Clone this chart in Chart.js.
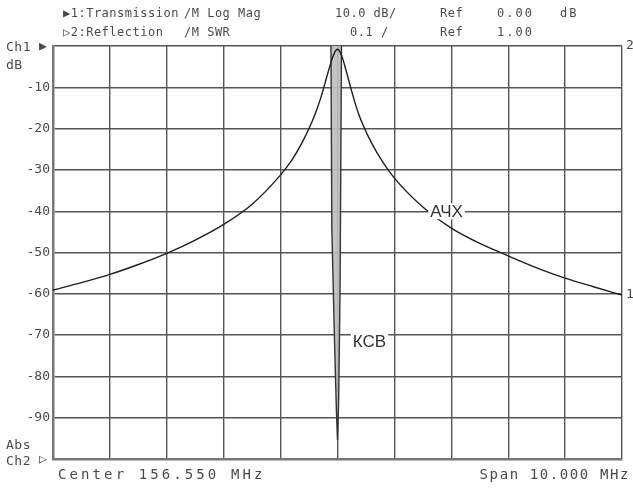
<!DOCTYPE html>
<html>
<head>
<meta charset="utf-8">
<script src="https://cdn.jsdelivr.net/npm/chart.js@4/dist/chart.umd.min.js"></script>
<style>
  body { margin: 0; background: #fff; }
  #wrap { width: 633px; height: 489px; }
</style>
</head>
<body>
<div id="wrap"><canvas id="myChart" width="633" height="489"></canvas></div>
<script>
// frequencies in MHz (center 156.550, span 10.000)
const achFreq = [151.55, 152.05, 152.55, 153.05, 153.55, 154.05, 154.55, 155.05, 155.55, 155.75,
                 155.95, 156.10, 156.175, 156.25, 156.30, 156.35, 156.40, 156.46, 156.51, 156.55,
                 156.59, 156.64, 156.70, 156.75, 156.80, 156.85, 156.925, 157.00, 157.15, 157.35,
                 157.55, 158.05, 158.55, 159.05, 159.55, 160.05, 160.55, 161.05, 161.55];
const achDb   = [-59.1, -57.3, -55.3, -52.9, -50.2, -47.0, -43.2, -38.3, -31.2, -27.6,
                 -22.8, -18.4, -15.8, -12.8, -10.5, -8.0, -5.6, -2.9, -1.3, -0.8,
                 -1.3, -3.0, -5.9, -8.4, -11.0, -13.4, -16.6, -19.2, -23.5, -28.2,
                 -32.0, -39.0, -44.1, -47.8, -50.8, -53.7, -56.2, -58.3, -60.3];

const swrFreq = [156.25, 156.435, 156.45, 156.495, 156.53, 156.55, 156.57, 156.595, 156.62, 156.80];
const swrVal  = [4.0, 2.0, 1.56, 1.30, 1.12, 1.046, 1.14, 1.41, 2.0, 4.0];

const dbTicks = [0, -10, -20, -30, -40, -50, -60, -70, -80, -90, -100];

const mono = '"DejaVu Sans Mono", "Liberation Mono", monospace';
const textColor = '#4a4a4a';

const toPoints = (xs, ys) => xs.map((x, i) => ({ x: x, y: ys[i] }));

// header, footer and channel markers of the analyser screen
const screenText = {
    id: 'screenText',
    afterDraw(chart) {
        const ctx = chart.ctx;
        const area = chart.chartArea;
        ctx.save();
        ctx.fillStyle = textColor;
        ctx.textBaseline = 'middle';
        ctx.font = '12px ' + mono;
        ctx.letterSpacing = '0.5px';
        ctx.textAlign = 'left';
        // header line 1
        ctx.fillText('\u25B61:Transmission', 63, 14);
        ctx.fillText('/M Log Mag', 184, 14);
        ctx.fillText('10.0 dB/', 335, 14);
        ctx.fillText('Ref', 440, 14);
        ctx.letterSpacing = '2px';
        ctx.fillText('0.00', 497, 14);
        ctx.fillText('dB', 560, 14);
        // header line 2
        ctx.letterSpacing = '0.5px';
        ctx.fillText('\u25B72:Reflection', 63, 33);
        ctx.fillText('/M SWR', 184, 33);
        ctx.fillText('0.1 /', 350, 33);
        ctx.fillText('Ref', 440, 33);
        ctx.letterSpacing = '2px';
        ctx.fillText('1.00', 497, 33);

        // left side labels
        ctx.font = '13px ' + mono;
        ctx.letterSpacing = '0.5px';
        ctx.fillText('Ch1', 6, area.top + 2);
        ctx.fillText('dB', 6, area.top + 20);
        ctx.fillText('Abs', 6, area.bottom - 13);
        ctx.fillText('Ch2', 6, area.bottom + 3);
        ctx.fillText('\u25B6', 39, area.top + 1);
        ctx.fillText('\u25B7', 39, area.bottom + 1);

        // right side markers
        ctx.fillText('2', area.right + 4, area.top);
        ctx.fillText('1', area.right + 4, area.top + (60.3 / 100) * (area.bottom - area.top));

        // footer
        ctx.font = '14px ' + mono;
        ctx.letterSpacing = '3.1px';
        ctx.fillText('Center 156.550 MHz', 58, 475);
        ctx.letterSpacing = '1.6px';
        ctx.textAlign = 'right';
        ctx.fillText('Span 10.000 MHz', 630, 475);
        ctx.restore();
    }
};

// trace names with white boxes behind them
const traceNames = {
    id: 'traceNames',
    afterDatasetsDraw(chart) {
        const ctx = chart.ctx;
        const x = chart.scales.x;
        const y = chart.scales.y;
        const names = [
            { text: '\u0410\u0427\u0425', f: 158.18, db: -40 },
            { text: '\u041A\u0421\u0412', f: 156.82, db: -71.5 }
        ];
        ctx.save();
        ctx.font = '17px "Liberation Sans", Arial, sans-serif';
        ctx.textBaseline = 'middle';
        ctx.textAlign = 'left';
        names.forEach(n => {
            const px = x.getPixelForValue(n.f);
            const py = y.getPixelForValue(n.db);
            const w = ctx.measureText(n.text).width;
            ctx.fillStyle = '#fff';
            ctx.fillRect(px - 2, py - 8, w + 4, 16);
            ctx.fillStyle = '#333';
            ctx.fillText(n.text, px, py + 1);
        });
        ctx.restore();
    }
};

const ctx = document.getElementById('myChart').getContext('2d');
const myChart = new Chart(ctx, {
    type: 'line',
    data: {
        datasets: [{
            label: 'Transmission',
            data: toPoints(achFreq, achDb),
            yAxisID: 'y',
            order: 0,
            borderColor: '#1e1e1e',
            borderWidth: 1.4,
            pointRadius: 0,
            fill: false,
            cubicInterpolationMode: 'monotone'
        }, {
            label: 'SWR',
            data: toPoints(swrFreq, swrVal),
            yAxisID: 'y2',
            order: 1,
            borderColor: '#333',
            borderWidth: 1.4,
            backgroundColor: 'rgba(190,190,190,0.9)',
            fill: 'end',
            pointRadius: 0,
            tension: 0
        }]
    },
    options: {
        responsive: false,
        animation: false,
        layout: { padding: { top: 46, right: 11, bottom: 30, left: 0 } },
        plugins: {
            legend: { display: false },
            tooltip: { enabled: false }
        },
        scales: {
            x: {
                type: 'linear',
                min: 151.55,
                max: 161.55,
                afterBuildTicks: axis => {
                    axis.ticks = Array.from({ length: 11 }, (_, i) => ({ value: 151.55 + i }));
                },
                ticks: { display: false },
                grid: { color: '#555', lineWidth: 1.4, drawTicks: false },
                border: { color: '#777', width: 2.5 }
            },
            y: {
                min: -100,
                max: 0,
                afterBuildTicks: axis => {
                    axis.ticks = dbTicks.map(v => ({ value: v }));
                },
                afterFit: axis => { axis.width = 53; },
                ticks: {
                    padding: 3,
                    color: textColor,
                    font: { family: mono, size: 13 },
                    callback: v => (v === 0 || v === -100) ? '' : String(v)
                },
                grid: { color: '#555', lineWidth: 1.4, drawTicks: false },
                border: { color: '#777', width: 2.5 }
            },
            y2: {
                min: 1.0,
                max: 2.0,
                display: false
            }
        }
    },
    plugins: [screenText, traceNames]
});
</script>
</body>
</html>
